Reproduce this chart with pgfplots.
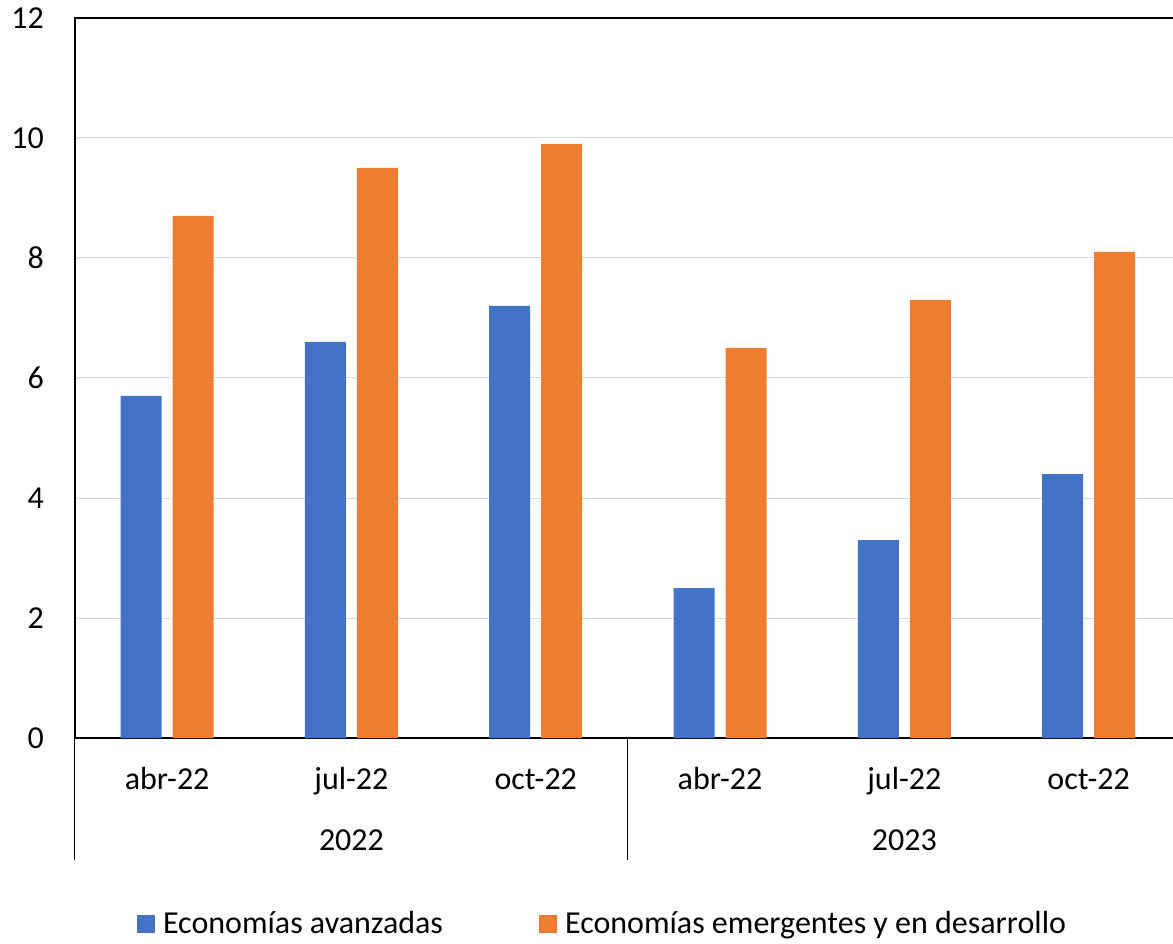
\documentclass[border=0pt]{standalone}
\usepackage{fontspec}
\setmainfont{Carlito}
\usepackage{pgfplots}
\pgfplotsset{compat=1.18}

\definecolor{eaBlue}{HTML}{4472C4}
\definecolor{eeOrange}{HTML}{ED7D31}
\definecolor{gridGray}{HTML}{D9D9D9}

\begin{document}
\fontsize{32}{38}\selectfont
\begin{tikzpicture}
\begin{axis}[
  at={(0pt,0pt)}, anchor=south west,
  width=1105.8pt, height=720pt, scale only axis,
  xmin=-0.5, xmax=5.5, ymin=0, ymax=12,
  ytick={0,2,...,12},
  xtick={0,...,5},
  xticklabels={abr-22,jul-22,oct-22,abr-22,jul-22,oct-22},
  major tick length=0pt,
  ymajorgrids, grid style={gridGray, line width=1pt},
  axis line style={black, line width=1.5pt},
  ybar, bar width=41pt,
  /pgf/number format/assume math mode=true,
  ticklabel style={font=\fontsize{32}{38}\selectfont},
  yticklabel style={anchor=east, inner sep=0pt, xshift=-31pt},
  xticklabel style={anchor=base, inner sep=0pt, yshift=-51pt},
  clip=false,
  legend cell align=left,
  legend columns=2,
  legend style={
    at={(0.0561,-0.2431)}, anchor=north west,
    draw=none, inner sep=0pt, outer sep=0pt,
    font=\fontsize{32}{38}\selectfont,
    nodes={inner sep=0pt, text height=20pt, text depth=0pt},
    /tikz/every odd column/.append style={column sep=8pt},
    /tikz/every even column/.append style={column sep=96pt},
  },
  legend image code/.code={\fill[#1] (0pt,-10pt) rectangle (18pt,8pt);},
]
\addplot[fill=eaBlue, draw=none, bar shift=-26pt]
  coordinates {(0,5.7) (1,6.6) (2,7.2) (3,2.5) (4,3.3) (5,4.4)};
\addlegendentry{Economías avanzadas}
\addplot[fill=eeOrange, draw=none, bar shift=26pt]
  coordinates {(0,8.7) (1,9.5) (2,9.9) (3,6.5) (4,7.3) (5,8.1)};
\addlegendentry{Economías emergentes y en desarrollo}

% second tier of category labels (years) and separators
\node[anchor=base] at (axis cs:1,0) [yshift=-112pt] {2022};
\node[anchor=base] at (axis cs:4,0) [yshift=-112pt] {2023};
\draw[black, line width=1pt] (axis cs:-0.5,0) -- ++(0pt,-122pt);
\draw[black, line width=1pt] (axis cs:2.5,0) -- ++(0pt,-122pt);
\draw[black, line width=1pt] (axis cs:5.5,0) -- ++(0pt,-122pt);
\end{axis}
\pgfresetboundingbox
\useasboundingbox (-75pt,-205pt) rectangle (1098pt,738pt);
\end{tikzpicture}
\end{document}
